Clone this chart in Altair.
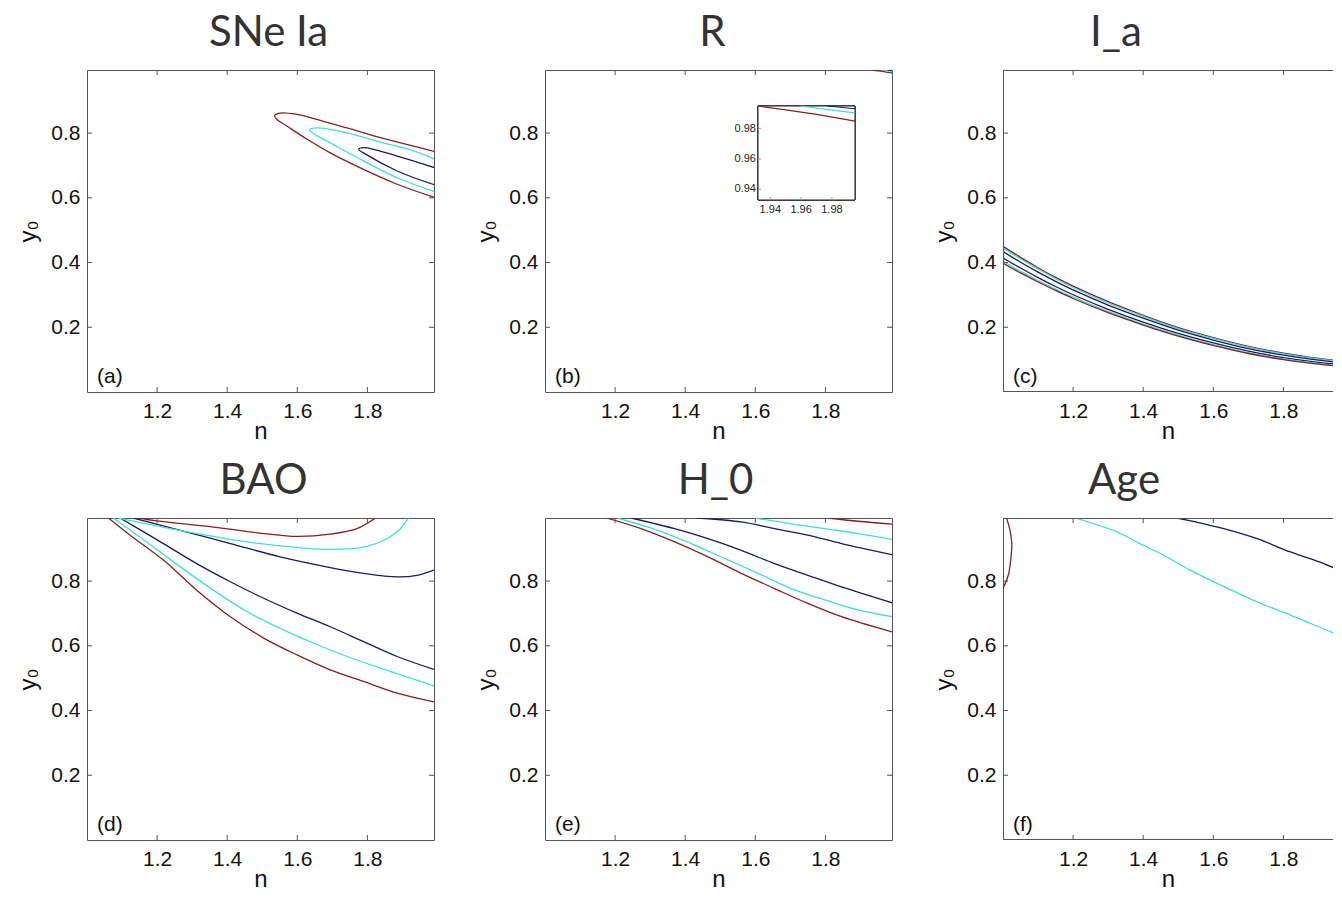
import altair as alt
import pandas as pd

# ---------------- data ----------------
TITLES = ["SNe Ia", "R", "I_a", "BAO", "H_0", "Age"]
TITLE_DX = [8, -6, -52, 3, -3, -44]
TAGS = ["(a)", "(b)", "(c)", "(d)", "(e)", "(f)"]
TICK_X = [1.2, 1.4, 1.6, 1.8]
TICK_Y = [0.2, 0.4, 0.6, 0.8]
INSET_TICK_X = [1.94, 1.96, 1.98]
INSET_TICK_Y = [0.94, 0.96, 0.98]
LEVELS = ["outer", "middle", "inner"]
LEVEL_COLORS = ["#861f1f", "#3fe0d0", "#1a1a66"]

# (a) SNe Ia
A_BROWN_X = [1.992, 1.932, 1.837, 1.742, 1.647, 1.599, 1.551, 1.535, 1.542, 1.570, 1.628, 1.694, 1.789, 1.885, 1.992]
A_BROWN_Y = [0.743, 0.760, 0.786, 0.816, 0.845, 0.858, 0.862, 0.854, 0.842, 0.822, 0.781, 0.739, 0.688, 0.642, 0.601]
A_CYAN_X = [1.992, 1.932, 1.837, 1.742, 1.656, 1.635, 1.647, 1.694, 1.789, 1.885, 1.992]
A_CYAN_Y = [0.719, 0.745, 0.772, 0.801, 0.816, 0.811, 0.798, 0.770, 0.714, 0.662, 0.619]
A_NAVY_X = [1.992, 1.885, 1.789, 1.775, 1.789, 1.885, 1.992]
A_NAVY_Y = [0.693, 0.729, 0.755, 0.750, 0.739, 0.683, 0.640]

# (b) R  (only a corner of the plane, shown again in the inset)
B_BROWN_X = [1.932, 1.950, 1.970, 1.995]
B_BROWN_Y = [0.995, 0.9925, 0.9895, 0.985]
B_CYAN_X = [1.960, 1.975, 1.995]
B_CYAN_Y = [0.995, 0.993, 0.9905]
B_NAVY_X = [1.977, 1.995]
B_NAVY_Y = [0.995, 0.9932]

# (c) I_a
C_X = [1.0, 1.05, 1.1, 1.15, 1.2, 1.3, 1.4, 1.5, 1.6, 1.7, 1.8, 1.9, 1.99]
C_BROWN_TOP = [0.450, 0.416, 0.384, 0.354, 0.327, 0.279, 0.237, 0.199, 0.168, 0.141, 0.120, 0.104, 0.093]
C_CYAN_TOP = [0.445, 0.411, 0.380, 0.350, 0.323, 0.275, 0.234, 0.196, 0.1655, 0.1385, 0.118, 0.102, 0.0915]
C_NAVY_TOP = [0.434, 0.401, 0.3705, 0.342, 0.3155, 0.2685, 0.228, 0.191, 0.1605, 0.134, 0.1138, 0.0985, 0.088]
C_NAVY_BOT = [0.414, 0.383, 0.3535, 0.326, 0.3005, 0.2555, 0.216, 0.181, 0.1515, 0.126, 0.1062, 0.0915, 0.082]
C_CYAN_BOT = [0.403, 0.373, 0.344, 0.318, 0.293, 0.249, 0.210, 0.176, 0.1465, 0.1215, 0.102, 0.088, 0.0785]
C_BROWN_BOT = [0.398, 0.368, 0.340, 0.314, 0.289, 0.245, 0.207, 0.173, 0.144, 0.119, 0.100, 0.086, 0.077]

# (d) BAO
D_BROWN_LO_X = [1.061, 1.123, 1.218, 1.313, 1.409, 1.504, 1.599, 1.694, 1.789, 1.885, 1.99]
D_BROWN_LO_Y = [0.995, 0.942, 0.865, 0.772, 0.690, 0.624, 0.572, 0.526, 0.490, 0.454, 0.427]
D_CYAN_LO_X = [1.075, 1.170, 1.266, 1.361, 1.456, 1.551, 1.647, 1.742, 1.837, 1.99]
D_CYAN_LO_Y = [0.995, 0.921, 0.844, 0.772, 0.706, 0.654, 0.608, 0.567, 0.531, 0.476]
D_NAVY_LO_X = [1.094, 1.218, 1.313, 1.409, 1.504, 1.599, 1.694, 1.789, 1.885, 1.99]
D_NAVY_LO_Y = [0.995, 0.916, 0.854, 0.798, 0.747, 0.701, 0.659, 0.613, 0.567, 0.527]
D_NAVY_UP_X = [1.132, 1.266, 1.409, 1.551, 1.694, 1.789, 1.885, 1.942, 1.99]
D_NAVY_UP_Y = [0.995, 0.957, 0.916, 0.875, 0.842, 0.824, 0.813, 0.818, 0.834]
D_CYAN_UP_X = [1.090, 1.170, 1.313, 1.456, 1.599, 1.694, 1.789, 1.855, 1.894, 1.917]
D_CYAN_UP_Y = [0.995, 0.977, 0.947, 0.921, 0.904, 0.898, 0.905, 0.931, 0.962, 0.995]
D_BROWN_UP_X = [1.150, 1.199, 1.361, 1.504, 1.599, 1.694, 1.770, 1.823]
D_BROWN_UP_Y = [0.995, 0.986, 0.967, 0.947, 0.938, 0.945, 0.962, 0.995]

# (e) H_0
E_BROWN_LO_X = [1.175, 1.274, 1.370, 1.465, 1.560, 1.655, 1.750, 1.846, 1.99]
E_BROWN_LO_Y = [0.995, 0.962, 0.921, 0.875, 0.824, 0.777, 0.731, 0.690, 0.643]
E_CYAN_LO_X = [1.207, 1.322, 1.417, 1.512, 1.608, 1.703, 1.798, 1.893, 1.99]
E_CYAN_LO_Y = [0.995, 0.957, 0.916, 0.870, 0.824, 0.777, 0.742, 0.711, 0.690]
E_NAVY_LO_X = [1.246, 1.370, 1.465, 1.560, 1.655, 1.750, 1.846, 1.99]
E_NAVY_LO_Y = [0.995, 0.962, 0.931, 0.895, 0.854, 0.818, 0.782, 0.733]
E_NAVY_UP_X = [1.436, 1.560, 1.655, 1.750, 1.846, 1.99]
E_NAVY_UP_Y = [0.995, 0.983, 0.962, 0.942, 0.916, 0.882]
E_CYAN_UP_X = [1.598, 1.703, 1.798, 1.893, 1.99]
E_CYAN_UP_Y = [0.995, 0.977, 0.962, 0.947, 0.929]
E_BROWN_UP_X = [1.807, 1.893, 1.99]
E_BROWN_UP_Y = [0.995, 0.985, 0.976]

# (f) Age
F_BROWN_X = [1.010, 1.020, 1.025, 1.022, 1.015, 1.000]
F_BROWN_Y = [0.995, 0.957, 0.916, 0.865, 0.818, 0.777]
F_CYAN_X = [1.206, 1.325, 1.391, 1.458, 1.534, 1.630, 1.725, 1.820, 1.969, 1.99]
F_CYAN_Y = [0.995, 0.952, 0.916, 0.880, 0.834, 0.783, 0.736, 0.695, 0.629, 0.622]
F_NAVY_X = [1.496, 1.553, 1.630, 1.725, 1.820, 1.915, 1.969, 1.99]
F_NAVY_Y = [0.995, 0.982, 0.962, 0.931, 0.890, 0.854, 0.829, 0.822]

# ---------------- layout constants ----------------
W, H = 347, 322
W_CUT = 330                    # right-hand column runs off the page edge
XDOM = [1.0, 1.99]
XDOM_CUT = [1.0, 1.9415]       # same scale as XDOM, truncated at the page edge
YDOM = [0.0, 0.995]
INSET_XDOM = [1.932, 1.995]
INSET_YDOM = [0.933, 0.995]
INSET_BOX = (213, 310, 36, 130)  # left, right, top, bottom (pixels inside panel b)
TICK_LEN = 5
FRAME_COLOR = "#555555"
LABEL_FONT = "Liberation Sans"


def lines_df(curves):
    rows = []
    for name, level, xs, ys in curves:
        for i, (x, y) in enumerate(zip(xs, ys)):
            rows.append({"curve": name, "level": level, "i": i, "x": x, "y": y})
    return pd.DataFrame(rows)


COLOR = alt.Color("level:N", scale=alt.Scale(domain=LEVELS, range=LEVEL_COLORS), legend=None)


def xenc(field, xdom):
    return alt.X(field, scale=alt.Scale(domain=xdom, nice=False, zero=False),
                 axis=alt.Axis(values=TICK_X, format=".1f", title="n"))


def yenc(field):
    return alt.Y(field, scale=alt.Scale(domain=YDOM, nice=False, zero=False),
                 axis=alt.Axis(values=TICK_Y, format=".1f", title="y₀"))


def main_layers(curves, tag, cut=False):
    xdom = XDOM_CUT if cut else XDOM
    w = W_CUT if cut else W
    df = lines_df(curves)
    lines = alt.Chart(df).mark_line(clip=True, strokeWidth=1.3, interpolate="catmull-rom").encode(
        x=xenc("x:Q", xdom), y=yenc("y:Q"), color=COLOR, detail="curve:N", order="i:Q",
    )
    tx = pd.DataFrame({"v": TICK_X})
    ty = pd.DataFrame({"v": TICK_Y})
    layers = [
        lines,
        alt.Chart(tx).mark_rule(color=FRAME_COLOR).encode(
            x=xenc("v:Q", xdom), y=alt.value(0), y2=alt.value(TICK_LEN)),
        alt.Chart(tx).mark_rule(color=FRAME_COLOR).encode(
            x=xenc("v:Q", xdom), y=alt.value(H - TICK_LEN), y2=alt.value(H)),
        alt.Chart(ty).mark_rule(color=FRAME_COLOR).encode(
            y=yenc("v:Q"), x=alt.value(0), x2=alt.value(TICK_LEN)),
    ]
    if cut:
        # frame drawn by hand: top, bottom, left (the right edge is off the page)
        one = pd.DataFrame({"a": [0]})
        layers += [
            alt.Chart(one).mark_rule(color=FRAME_COLOR).encode(
                x=alt.value(0), x2=alt.value(w), y=alt.value(0.5)),
            alt.Chart(one).mark_rule(color=FRAME_COLOR).encode(
                x=alt.value(0), x2=alt.value(w), y=alt.value(H - 0.5)),
            alt.Chart(one).mark_rule(color=FRAME_COLOR).encode(
                x=alt.value(0.5), y=alt.value(0), y2=alt.value(H)),
        ]
    else:
        layers.append(alt.Chart(ty).mark_rule(color=FRAME_COLOR).encode(
            y=yenc("v:Q"), x=alt.value(W - TICK_LEN), x2=alt.value(W)))
    layers.append(alt.Chart(pd.DataFrame({"t": [tag]})).mark_text(
        align="left", baseline="alphabetic", fontSize=21, font=LABEL_FONT, color="#111"
    ).encode(x=alt.value(10), y=alt.value(H - 9), text="t:N"))
    return layers


def titled(layer, idx, cut=False):
    props = dict(width=W_CUT if cut else W, height=H,
                 title=alt.TitleParams(TITLES[idx], dx=TITLE_DX[idx]))
    if cut:
        props["view"] = alt.ViewBackground(stroke="transparent")
    return layer.properties(**props)


A = [("ab", "outer", A_BROWN_X, A_BROWN_Y), ("ac", "middle", A_CYAN_X, A_CYAN_Y),
     ("an", "inner", A_NAVY_X, A_NAVY_Y)]
B = [("bb", "outer", B_BROWN_X, B_BROWN_Y), ("bc", "middle", B_CYAN_X, B_CYAN_Y),
     ("bn", "inner", B_NAVY_X, B_NAVY_Y)]
C = [("cbt", "outer", C_X, C_BROWN_TOP), ("cct", "middle", C_X, C_CYAN_TOP),
     ("cnt", "inner", C_X, C_NAVY_TOP), ("cnb", "inner", C_X, C_NAVY_BOT),
     ("ccb", "middle", C_X, C_CYAN_BOT), ("cbb", "outer", C_X, C_BROWN_BOT)]
D = [("dbl", "outer", D_BROWN_LO_X, D_BROWN_LO_Y), ("dcl", "middle", D_CYAN_LO_X, D_CYAN_LO_Y),
     ("dnl", "inner", D_NAVY_LO_X, D_NAVY_LO_Y), ("dnu", "inner", D_NAVY_UP_X, D_NAVY_UP_Y),
     ("dcu", "middle", D_CYAN_UP_X, D_CYAN_UP_Y), ("dbu", "outer", D_BROWN_UP_X, D_BROWN_UP_Y)]
E = [("ebl", "outer", E_BROWN_LO_X, E_BROWN_LO_Y), ("ecl", "middle", E_CYAN_LO_X, E_CYAN_LO_Y),
     ("enl", "inner", E_NAVY_LO_X, E_NAVY_LO_Y), ("enu", "inner", E_NAVY_UP_X, E_NAVY_UP_Y),
     ("ecu", "middle", E_CYAN_UP_X, E_CYAN_UP_Y), ("ebu", "outer", E_BROWN_UP_X, E_BROWN_UP_Y)]
F = [("fb", "outer", F_BROWN_X, F_BROWN_Y), ("fc", "middle", F_CYAN_X, F_CYAN_Y),
     ("fn", "inner", F_NAVY_X, F_NAVY_Y)]

pa = titled(alt.layer(*main_layers(A, TAGS[0])), 0)
pc = titled(alt.layer(*main_layers(C, TAGS[2], cut=True)), 2, cut=True)
pd_ = titled(alt.layer(*main_layers(D, TAGS[3])), 3)
pe = titled(alt.layer(*main_layers(E, TAGS[4])), 4)
pf = titled(alt.layer(*main_layers(F, TAGS[5], cut=True)), 5, cut=True)

# panel (b) with inset
L, R, T, Bt = INSET_BOX


def ix(field):
    return alt.X(field, scale=alt.Scale(domain=INSET_XDOM, range=[L, R], nice=False, zero=False), axis=None)


def iy(field):
    return alt.Y(field, scale=alt.Scale(domain=INSET_YDOM, range=[Bt, T], nice=False, zero=False), axis=None)


itx = pd.DataFrame({"v": INSET_TICK_X})
ity = pd.DataFrame({"v": INSET_TICK_Y})
frame = alt.Chart(itx).mark_rect(fill="white", stroke="#222", strokeWidth=1).encode(
    x=alt.value(L), x2=alt.value(R), y=alt.value(T), y2=alt.value(Bt))
inset_lines = alt.Chart(lines_df(B)).mark_line(strokeWidth=1.2).encode(
    x=ix("x:Q"), y=iy("y:Q"), color=COLOR, detail="curve:N", order="i:Q")
inset_xlab = alt.Chart(itx).mark_text(baseline="top", fontSize=11, font=LABEL_FONT, color="#222").encode(
    x=ix("v:Q"), y=alt.value(Bt + 4), text=alt.Text("v:Q", format=".2f"))
inset_ylab = alt.Chart(ity).mark_text(align="right", baseline="middle", fontSize=11, font=LABEL_FONT,
                                      color="#222").encode(
    y=iy("v:Q"), x=alt.value(L - 2), text=alt.Text("v:Q", format=".2f"))
inset_xt = alt.Chart(itx).mark_rule(color="#999").encode(
    x=ix("v:Q"), y=alt.value(Bt - 3), y2=alt.value(Bt))
inset_yt = alt.Chart(ity).mark_rule(color="#999").encode(
    y=iy("v:Q"), x=alt.value(L), x2=alt.value(L + 3))
inset = alt.layer(frame, inset_lines, inset_xt, inset_yt, inset_xlab, inset_ylab)
pb = titled(alt.layer(alt.layer(*main_layers(B, TAGS[1])), inset).resolve_scale(
    x="independent", y="independent"), 1)

chart = alt.concat(
    pa, pb, pc, pd_, pe, pf, columns=3, spacing={"row": 126, "column": 111}, bounds="flush"
).properties(
    padding={"left": 8, "top": 3, "right": 0, "bottom": 0}
).configure_view(
    stroke=FRAME_COLOR, strokeWidth=1
).configure_axis(
    grid=False, domain=False, ticks=False,
    labelFont=LABEL_FONT, labelFontSize=21, labelColor="#111",
    titleFont=LABEL_FONT, titleFontWeight="normal", titleColor="#111",
).configure_axisX(
    labelPadding=8, titlePadding=-2, titleFontSize=24
).configure_axisY(
    labelPadding=7, titlePadding=10, titleFontSize=24
).configure_title(
    font="Lato", fontSize=42, fontWeight="normal", color="#333333",
    anchor="middle", frame="group", baseline="alphabetic", offset=15,
)

chart.save("out.html", embed_options={"renderer": "svg", "actions": False})
